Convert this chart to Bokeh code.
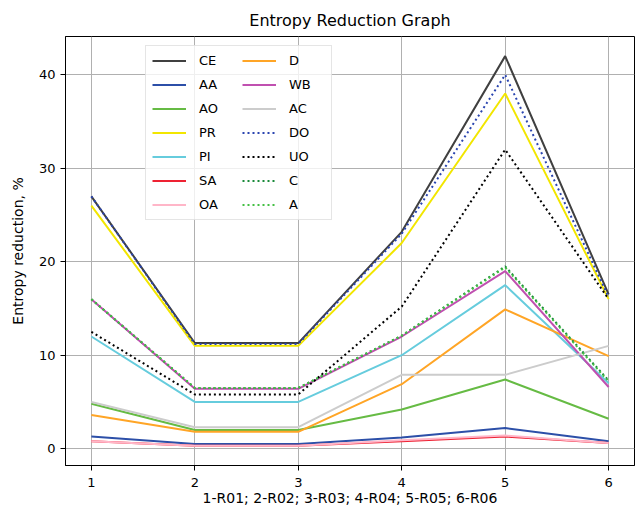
from bokeh.plotting import figure
from bokeh.models import Legend, LegendItem, Range1d, FixedTicker
from bokeh.embed import file_html
from bokeh.resources import INLINE

x = [1, 2, 3, 4, 5, 6]
CE = [27.0, 11.3, 11.3, 23.2, 42.0, 16.5]
AA = [1.3, 0.5, 0.5, 1.2, 2.2, 0.8]
AO = [4.8, 2.0, 2.0, 4.2, 7.4, 3.2]
PR = [26.0, 11.0, 11.0, 22.0, 38.0, 16.0]
PI = [12.0, 5.0, 5.0, 10.0, 17.5, 7.0]
SA = [0.8, 0.3, 0.3, 0.8, 1.3, 0.6]
OA = [0.8, 0.3, 0.3, 0.9, 1.4, 0.6]
D = [3.6, 1.8, 1.8, 6.9, 14.9, 9.9]
WB = [16.0, 6.4, 6.4, 12.0, 19.0, 6.6]
AC = [5.0, 2.3, 2.3, 7.9, 7.9, 11.0]
DO = [27.0, 11.2, 11.2, 23.0, 40.0, 16.2]
UO = [12.5, 5.8, 5.8, 15.2, 32.0, 16.0]
C = [16.0, 6.5, 6.5, 12.1, 19.5, 7.3]
A = [16.0, 6.5, 6.5, 12.1, 19.4, 7.2]

series = [
    ("CE", CE, "#404040", "solid"),
    ("AA", AA, "#2c4fa8", "solid"),
    ("AO", AO, "#66bb44", "solid"),
    ("PR", PR, "#f2e600", "solid"),
    ("PI", PI, "#66ccdd", "solid"),
    ("SA", SA, "#ee2233", "solid"),
    ("OA", OA, "#ffb6c8", "solid"),
    ("D", D, "#ffa526", "solid"),
    ("WB", WB, "#c050b0", "solid"),
    ("AC", AC, "#cccccc", "solid"),
    ("DO", DO, "#2a45b0", "2 3"),
    ("UO", UO, "#000000", "2 3"),
    ("C", C, "#1a8a3a", "2 3"),
    ("A", A, "#44c044", "2 3"),
]

p = figure(width=635, height=515, output_backend="svg", toolbar_location=None,
           title="Entropy Reduction Graph",
           x_range=Range1d(0.75, 6.25), y_range=Range1d(-1.8, 44.1),
           min_border_left=65, min_border_right=1, min_border_top=36, min_border_bottom=50)

renderers = {}
for name, vals, col, dash in series:
    r = p.line(x, vals, line_color=col, line_width=2, line_dash=dash)
    renderers[name] = r

items1 = [LegendItem(label=n, renderers=[renderers[n]]) for n in ["CE", "AA", "AO", "PR", "PI", "SA", "OA"]]
items2 = [LegendItem(label=n, renderers=[renderers[n]]) for n in ["D", "WB", "AC", "DO", "UO", "C", "A"]]
leg = Legend(items=items1 + items2, nrows=7, location=(80, 245),
             label_text_font="DejaVu Sans", label_text_font_size="13px",
             label_text_color="black",
             glyph_width=34, label_height=17, glyph_height=17, spacing=7,
             label_width=36, label_standoff=13,
             padding=6, margin=0,
             border_line_color="#cccccc", border_line_width=1,
             background_fill_alpha=0.8)
p.add_layout(leg, "center")

p.title.align = "center"
p.title.text_font = "DejaVu Sans"
p.title.text_font_size = "16px"
p.title.text_font_style = "normal"
p.title.text_color = "black"
p.title.standoff = 14

p.xaxis.ticker = FixedTicker(ticks=x)
p.yaxis.ticker = FixedTicker(ticks=[0, 10, 20, 30, 40])
p.xaxis.axis_label = "1-R01; 2-R02; 3-R03; 4-R04; 5-R05; 6-R06"
p.yaxis.axis_label = "Entropy reduction, %"
for ax in [p.xaxis[0], p.yaxis[0]]:
    ax.axis_label_text_font = "DejaVu Sans"
    ax.axis_label_text_font_size = "14px"
    ax.axis_label_text_font_style = "normal"
    ax.axis_label_text_color = "black"
    ax.major_label_text_font = "DejaVu Sans"
    ax.major_label_text_font_size = "13px"
    ax.major_label_text_color = "black"
    ax.minor_tick_line_color = None
    ax.major_tick_out = 5
    ax.major_tick_in = 0
    ax.axis_line_color = "black"
    ax.major_tick_line_color = "black"
p.yaxis.axis_label_standoff = 10
p.xaxis.axis_label_standoff = 0
p.xaxis.major_label_standoff = 7

p.grid.grid_line_color = "#b0b0b0"
p.grid.grid_line_width = 1
p.outline_line_color = "black"
p.outline_line_alpha = 1

open("out.html", "w").write(file_html(p, INLINE))
